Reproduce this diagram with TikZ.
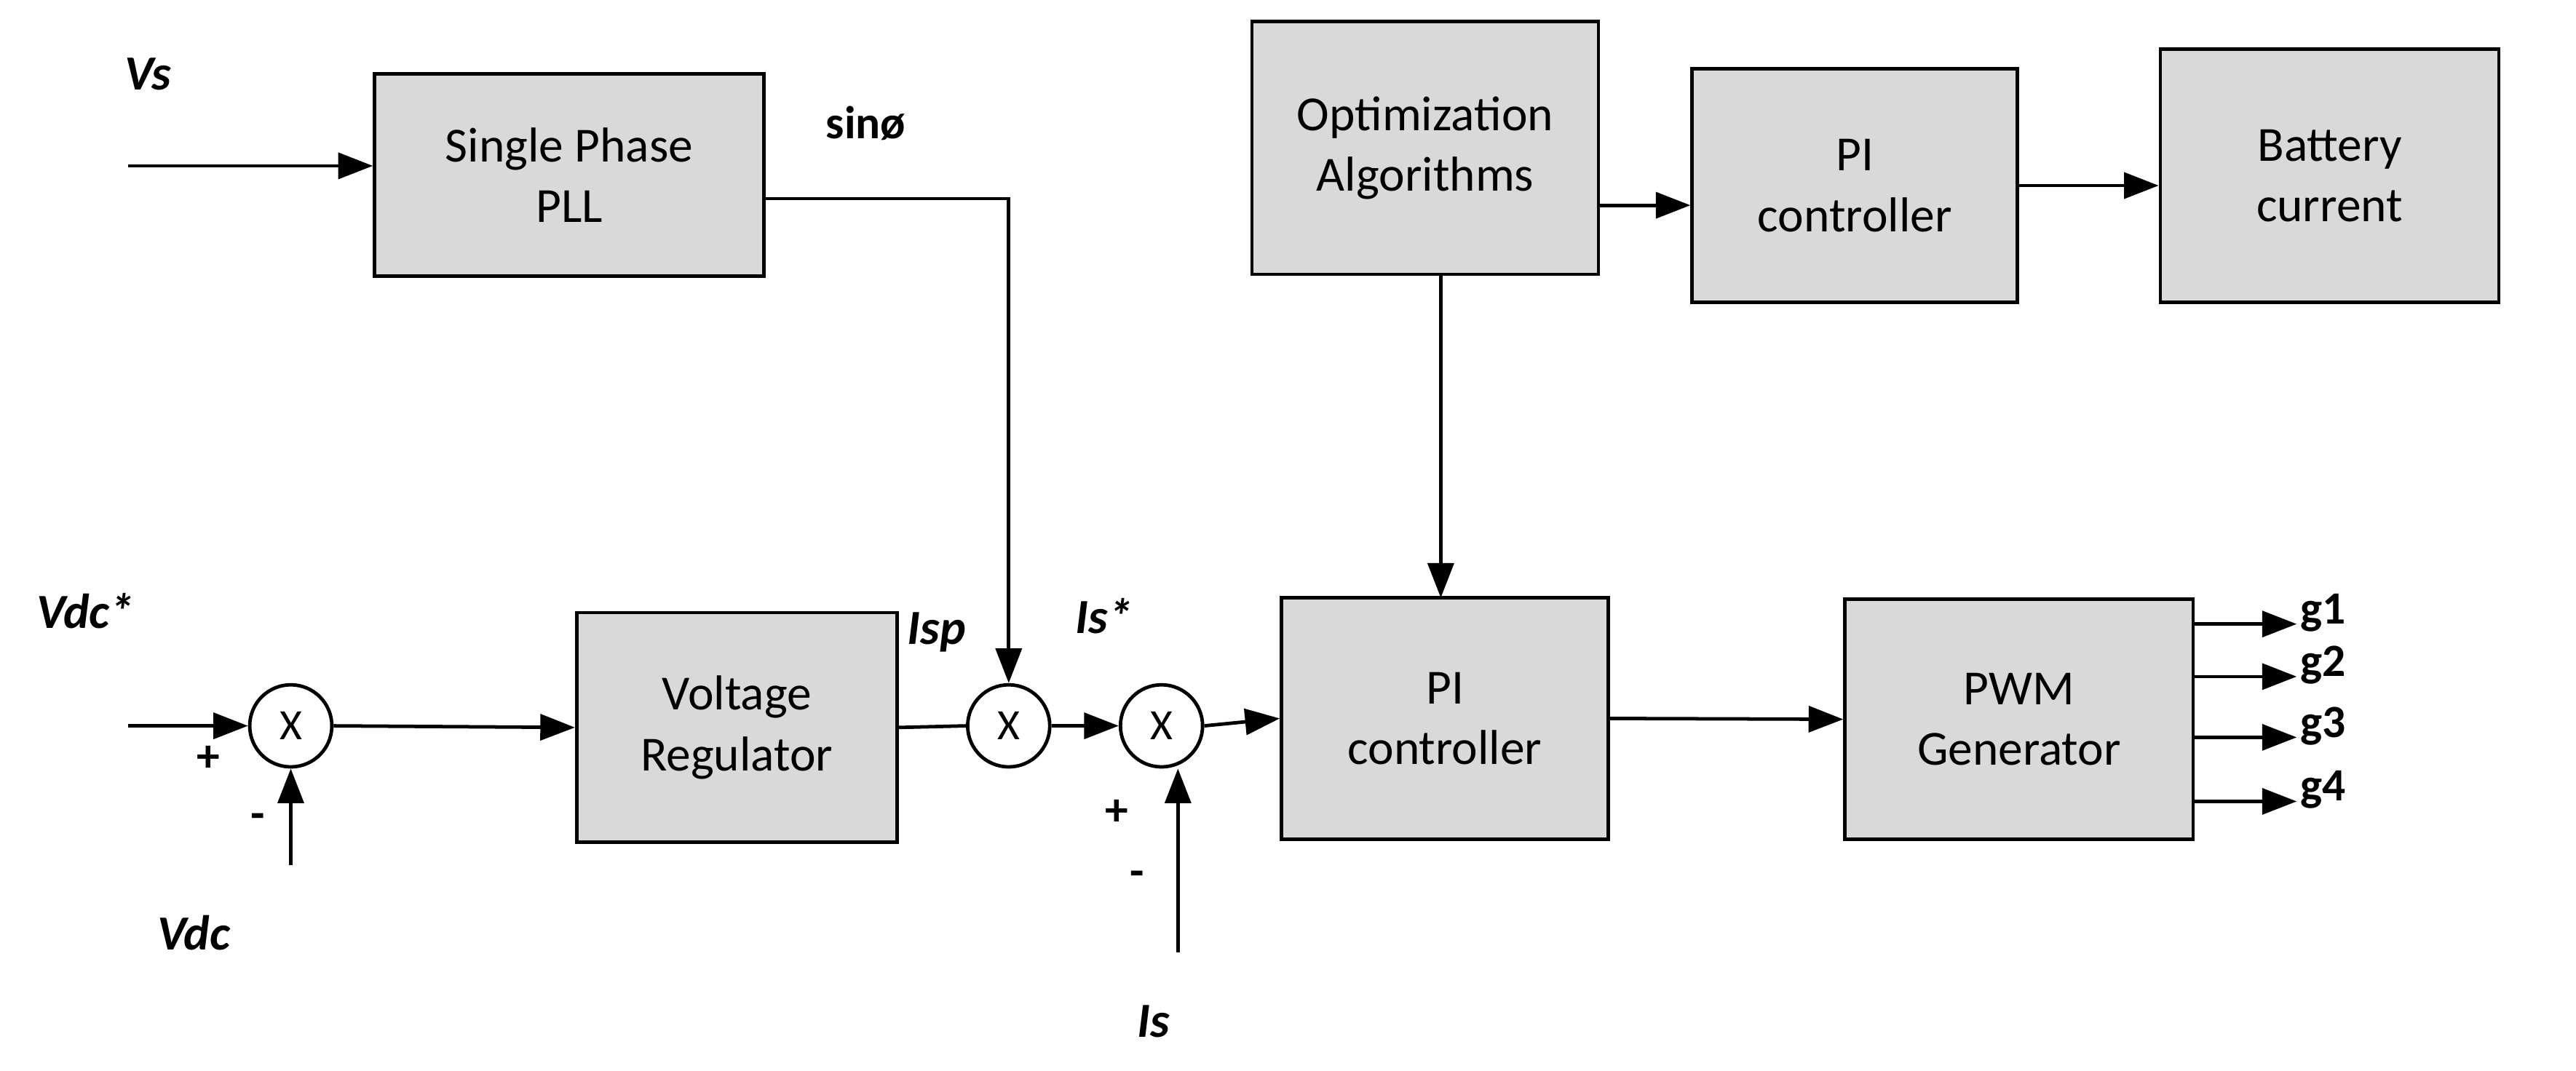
\documentclass[tikz,border=0pt]{standalone}
\usepackage{fontspec}
\setmainfont{Carlito}
\usetikzlibrary{arrows.meta}
\begin{document}
\begin{tikzpicture}[x=0.02cm,y=-0.02cm,
 blk/.style={draw,line width=1.2pt,fill=gray!30,align=center,font=\fontsize{17}{21}\selectfont,inner sep=0},
 sum/.style={draw,line width=1.2pt,circle,minimum size=1cm,inner sep=0,font=\fontsize{15}{18}\selectfont},
 ar/.style={line width=1.2pt,-{Triangle[length=12pt,width=9pt]}},
 ln/.style={line width=1.2pt},
 lab/.style={font=\bfseries\itshape\fontsize{17}{20}\selectfont},
 g/.style={font=\bfseries\fontsize{16}{18}\selectfont,anchor=west,inner sep=1pt}]
\useasboundingbox (0,0) rectangle (1568,652);
\node[blk,minimum width=4.74cm,minimum height=2.46cm] (pll) at (346.5,106.5) {Single Phase\\PLL};
\node[blk,minimum width=4.22cm,minimum height=3.08cm] (opt) at (867.5,90) {Optimization\\Algorithms};
\node[blk,minimum width=3.96cm,minimum height=2.84cm] (pit) at (1129,113) {PI\\controller};
\node[blk,minimum width=4.12cm,minimum height=3.08cm] (bat) at (1418,107) {Battery\\current};
\node[blk,minimum width=3.9cm,minimum height=2.8cm] (vr) at (448.5,443) {Voltage\\Regulator};
\node[blk,minimum width=3.98cm,minimum height=2.94cm] (pim) at (879.5,437.5) {PI\\controller};
\node[blk,minimum width=4.24cm,minimum height=2.92cm] (pwm) at (1229,438) {PWM\\Generator};
\node[sum] (x1) at (177,442) {X};
\node[sum] (x2) at (614,442) {X};
\node[sum] (x3) at (707,442) {X};
\coordinate (vs) at (78,101);
\coordinate (vdcs) at (78,442);
\coordinate (vdc) at (177,527);
\coordinate (is) at (717,580);
\draw[ar] (vs) -- (vs-|pll.west);
\draw[ar] (pll.east|-0,121) -| (x2.north);
\draw[ar] (vdcs) -- (x1.west);
\draw[ar] (vdc) -- (x1.south);
\draw[ar] (x1.east) -- (vr.west);
\draw[ln] (vr.east) -- (x2.west);
\draw[ar] (x2.east) -- (x3.west);
\draw[ar] (x3.east) -- (pim.west);
\draw[ar] (is) -- (is|-x3.south);
\draw[ar] (opt.south-|877,0) -- (877,364);
\draw[ar] (opt.east|-0,125) -- (pit.west|-0,125);
\draw[ar] (pit.east|-0,113) -- (bat.west|-0,113);
\draw[ar] (pim.east) -- (pwm.west);
\foreach \y/\t in {380/g1,412/g2,449/g3,488/g4}{
 \coordinate (e\t) at (1398,\y);
 \draw[ar] (pwm.east|-0,\y) -- (e\t);
 \node[g] at (1398,\y-7) {\t};}
\node[lab] at (90,45) {Vs};
\node[font=\bfseries\fontsize{16}{18}\selectfont] at (527,75) {sinø};
\node[lab] at (52,372) {Vdc*};
\node[lab] at (118,568) {Vdc};
\node[lab] at (570,385) {Isp};
\node[lab] at (672,375) {Is*};
\node[lab] at (702,622) {Is};
\node[font=\bfseries\fontsize{16}{18}\selectfont] at (127,462) {+};
\node[font=\bfseries\fontsize{16}{18}\selectfont] at (157,500) {-};
\node[font=\bfseries\fontsize{16}{18}\selectfont] at (680,495) {+};
\node[font=\bfseries\fontsize{16}{18}\selectfont] at (692,535) {-};
\end{tikzpicture}
\end{document}
